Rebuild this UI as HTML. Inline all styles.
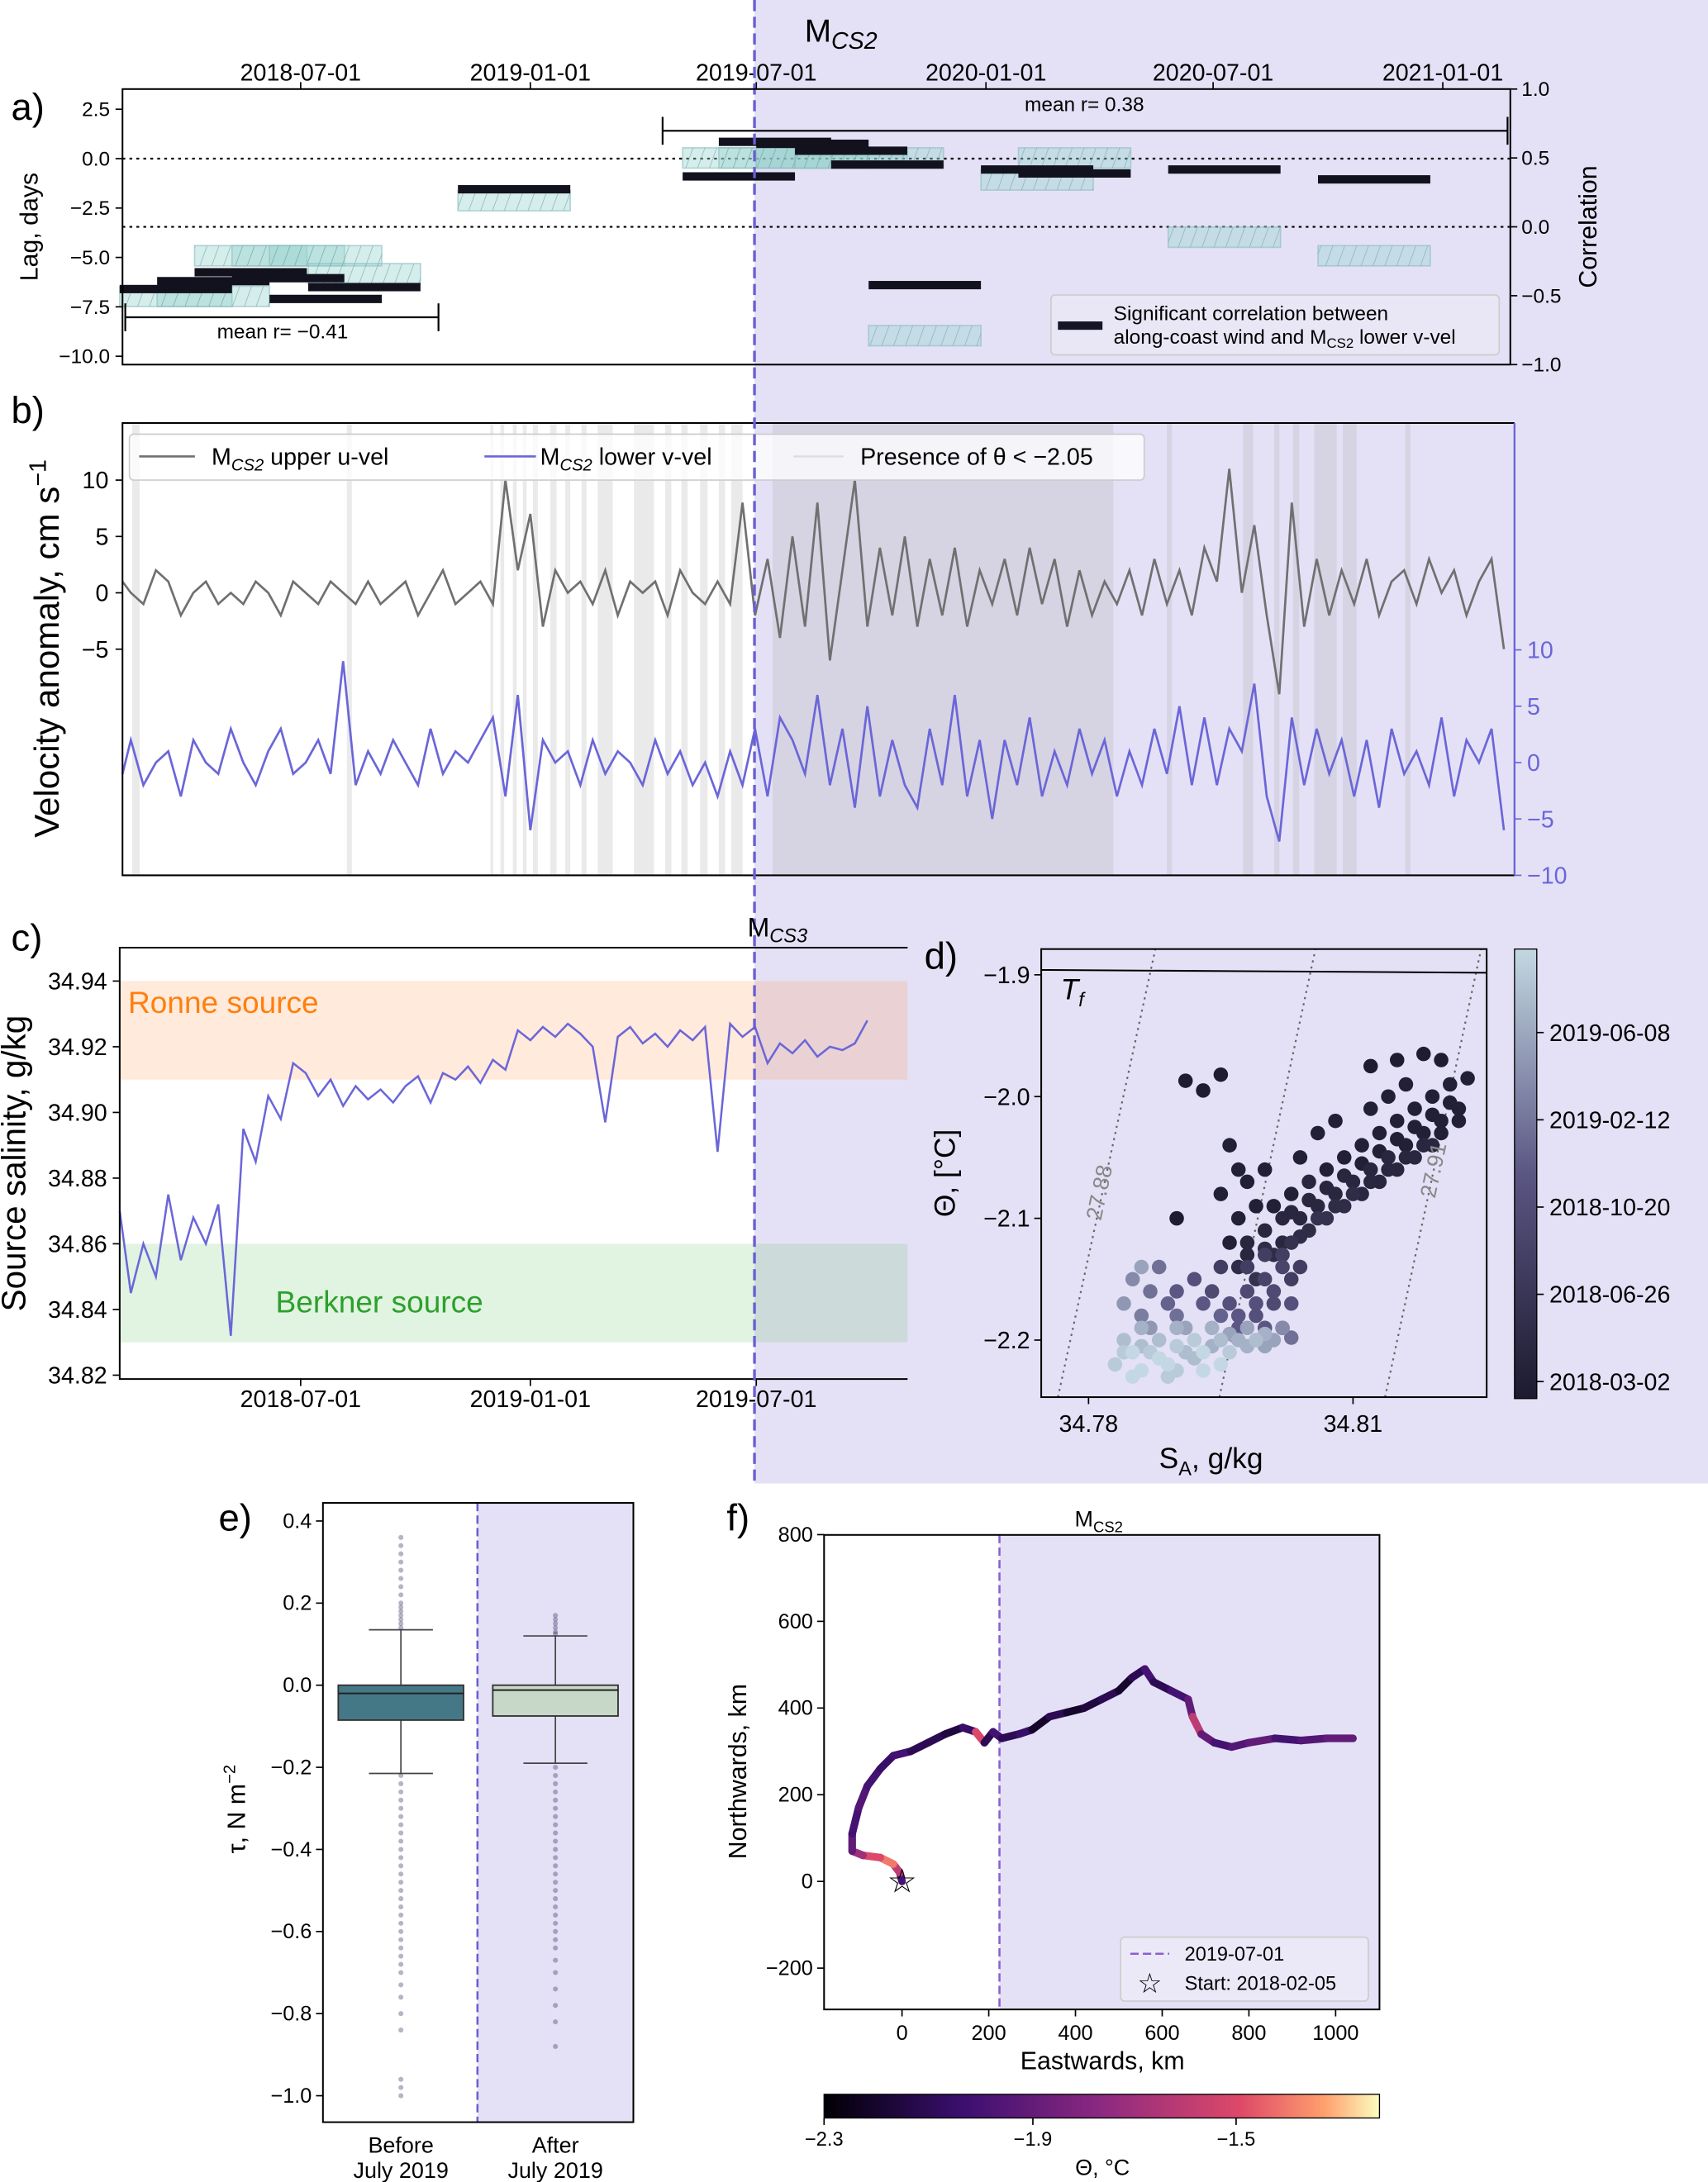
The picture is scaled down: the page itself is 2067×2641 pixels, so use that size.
<!DOCTYPE html>
<html><head><meta charset="utf-8">
<style>
html,body{margin:0;padding:0;background:#fff;}
svg{display:block;font-family:"Liberation Sans",sans-serif;}
</style></head>
<body>
<svg id="fig" width="2067" height="2641" viewBox="0 0 1227 1568" preserveAspectRatio="none" xmlns="http://www.w3.org/2000/svg">
<defs>
<pattern id="hatch" width="8" height="8" patternUnits="userSpaceOnUse" patternTransform="rotate(20)">
<line x1="0" y1="0" x2="0" y2="8" stroke="#7fb0b0" stroke-width="0.8"/>
</pattern>
<linearGradient id="boneg" x1="0" y1="1" x2="0" y2="0">
<stop offset="0" stop-color="#1c1a2e"/><stop offset="0.5" stop-color="#5b5683"/><stop offset="1" stop-color="#c3d8e2"/>
</linearGradient>
<linearGradient id="magmag" x1="0" y1="0" x2="1" y2="0">
<stop offset="0" stop-color="#000004"/><stop offset="0.25" stop-color="#3b0f70"/><stop offset="0.5" stop-color="#8c2981"/><stop offset="0.75" stop-color="#de4968"/><stop offset="0.9" stop-color="#fe9f6d"/><stop offset="1" stop-color="#fcfdbf"/>
</linearGradient>
</defs>
<rect x="542" y="0" width="685" height="1066" fill="#e4e1f6"/>
<g id="gA"></g>
<g id="gB"></g>
<g id="gC"></g>
<g id="gD"></g>
<g id="gE"></g>
<g id="gF"></g>
<line x1="542" y1="0" x2="542" y2="1068" stroke="#6a5fd0" stroke-width="2" stroke-dasharray="8,4"/>
<text x="578" y="30" font-size="23">M<tspan font-size="17" font-style="italic" dy="5">CS2</tspan></text>

<text x="8" y="86" font-size="27">a)</text>
<rect x="88" y="64" width="997" height="198" fill="none" stroke="#000" stroke-width="1.2"/>
<text transform="translate(27,163) rotate(-90)" text-anchor="middle" font-size="18">Lag, days</text>
<text transform="translate(1147,163) rotate(-90)" text-anchor="middle" font-size="18">Correlation</text>
<g>
<rect x="755" y="212" width="322" height="43" rx="3" fill="#e9e7f5" stroke="#ccc"/>
<rect x="760" y="231" width="32" height="6" fill="#151525"/>
<text x="800" y="230" font-size="14.5">Significant correlation between</text>
<text x="800" y="247" font-size="14.5">along-coast wind and M<tspan font-size="10" dy="3">CS2</tspan><tspan dy="-3"> lower v-vel</tspan></text>
</g>
<g stroke="#000" stroke-width="1.3">
<line x1="476" y1="94" x2="1083" y2="94"/><line x1="476" y1="84" x2="476" y2="104"/><line x1="1083" y1="84" x2="1083" y2="104"/>
<line x1="90" y1="228" x2="315" y2="228"/><line x1="90" y1="218" x2="90" y2="238"/><line x1="315" y1="218" x2="315" y2="238"/>
</g>
<text x="779" y="80" font-size="14.5" text-anchor="middle">mean r= 0.38</text>
<text x="203" y="243" font-size="14.5" text-anchor="middle">mean r= −0.41</text>

<text x="8" y="304" font-size="27">b)</text>
<text transform="translate(42,466) rotate(-90)" text-anchor="middle" font-size="25">Velocity anomaly, cm s<tspan font-size="17" dy="-9">−1</tspan></text>

<text x="8" y="683" font-size="27">c)</text>
<text x="537" y="673" font-size="19">M<tspan font-size="14" font-style="italic" dy="4">CS3</tspan></text>
<text transform="translate(18,836) rotate(-90)" text-anchor="middle" font-size="24">Source salinity, g/kg</text>

<text x="664" y="696" font-size="27">d)</text>
<text transform="translate(686,843) rotate(-90)" text-anchor="middle" font-size="21">Θ, [°C]</text>
<text x="870" y="1055" text-anchor="middle" font-size="21">S<tspan font-size="14" dy="5">A</tspan><tspan dy="-5">, g/kg</tspan></text>

<text x="157" y="1100" font-size="27">e)</text>
<text transform="translate(176,1300) rotate(-90)" text-anchor="middle" font-size="18">τ, N m<tspan font-size="12" dy="-7">−2</tspan></text>
<text x="288" y="1547" text-anchor="middle" font-size="16">Before</text>
<text x="288" y="1565" text-anchor="middle" font-size="16">July 2019</text>
<text x="399" y="1547" text-anchor="middle" font-size="16">After</text>
<text x="399" y="1565" text-anchor="middle" font-size="16">July 2019</text>

<text x="522" y="1100" font-size="27">f)</text>
<text x="772" y="1097" font-size="16">M<tspan font-size="11" dy="4">CS2</tspan></text>
<text x="792" y="1487" text-anchor="middle" font-size="18">Eastwards, km</text>
<text transform="translate(536,1273) rotate(-90)" text-anchor="middle" font-size="18">Northwards, km</text>
<text x="792" y="1563" text-anchor="middle" font-size="16">Θ, °C</text>
</svg>

<script>
// ---------- DATA ----------
const lagStart = [-145,-115,-85,-55,-25,6,126,306,335,365,396,425,455,545,575,695,815];
const lagValue = [-6.6,-6.2,-5.75,-6.05,-7.1,-6.5,-1.55,-0.9,0.85,0.75,0.4,-0.3,-6.4,-0.55,-0.75,-0.55,-1.05];
const corrValue = [-0.505,-0.505,-0.21,-0.21,-0.21,-0.34,0.19,0.5,0.5,0.5,0.5,0.5,-0.79,0.34,0.5,-0.075,-0.21];
const dateTickLabels = ["2018-07-01","2019-01-01","2019-07-01","2020-01-01","2020-07-01","2021-01-01"];
const dateTickDays = [0,184,365,549,731,915];
const lagTicks = [2.5,0,-2.5,-5,-7.5,-10];
const corrTicks = [1,0.5,0,-0.5,-1];
const uVel = [1,0,-1,2,1,-2,0,1,-1,0, -1,1,0,-2,1,0,-1,1,0,-1, 1,-1,0,1,-2,0,2,-1,0,1, -1,10,2,7,-3,2,0,1,-1,2, -2,1,0,1,-2,2,0,-1,1,-1, 8,-2,3,-4,5,-3,8,-6,2,10, -3,4,-2,5,-3,3,-2,4,-3,2, -1,3,-2,4,-1,3,-3,2,-2,1, -1,2,-2,3,-1,2,-2,4,1,11, 0,6,-2,-9,8,-3,3,-2,2,-1, 3,-2,1,2,-1,3,0,2,-2,1,3,-5];
const vVel = [-1,2,-2,0,1,-3,2,0,-1,3, 0,-2,1,3,-1,0,2,-1,9,-2, 1,-1,2,0,-2,3,-1,1,0,2, 4,-3,6,-6,2,0,1,-2,2,-1, 1,0,-2,2,-1,1,-2,0,-3,1, -2,3,-3,4,2,-1,6,-2,3,-4, 5,-3,2,-2,-4,3,-2,6,-3,2, -5,2,-2,4,-3,1,-2,3,-1,2, -3,1,-2,3,-1,5,-2,4,-2,3, 1,7,-3,-7,4,-2,3,-1,2,-3, 2,-4,3,-1,1,-2,4,-3,2,0,3,-6];
const coldStart = [-135,37,152,160,170,178,186,200,212,225,238,267,292,305,320,335,345,378,501,694,755,780,795,812,835,885];
const coldEnd = [-129,41,154,163,173,181,190,205,216,229,250,283,297,310,326,340,354,501,651,698,763,784,800,830,846,889];
const salinity = [34.870,34.845,34.860,34.850,34.875,34.855,34.868,34.860,34.872,34.832,34.895,34.885,34.905,34.898,34.915,34.912,34.905,34.910,34.902,34.908,34.904,34.907,34.903,34.908,34.911,34.903,34.912,34.910,34.914,34.909,34.916,34.913,34.925,34.922,34.926,34.923,34.927,34.924,34.920,34.897,34.923,34.926,34.921,34.924,34.920,34.925,34.922,34.926,34.888,34.927,34.923,34.926,34.915,34.921,34.918,34.922,34.917,34.920,34.919,34.921,34.928];
const salTicks = [34.94,34.92,34.90,34.88,34.86,34.84,34.82];
const dSA = [34.797,34.798,34.799,34.800,34.801,34.802,34.803,34.803,34.804,34.805,34.805,34.806,34.807,34.807,34.808,34.809,34.809,34.810,34.811,34.811,34.812,34.813,34.813,34.814,34.815,34.815,34.816,34.817,34.817,34.818,34.819,34.819,34.820,34.821,34.822,34.823,34.815,34.818,34.812,34.820,34.808,34.806,34.804,
34.796,34.797,34.798,34.795,34.799,34.797,34.796,34.800,34.791,34.793,34.795,34.790,
34.794,34.796,34.798,34.800,34.799,34.801,34.802,34.797,34.795,34.803,34.800,34.792,34.790,
34.785,34.787,34.786,34.788,34.789,34.784,34.790,34.786,
34.783,34.784,34.785,34.786,34.787,34.788,34.789,34.790,34.791,34.792,34.793,34.794,34.795,34.796,34.797,34.798,34.799,34.800,34.801,34.802,34.803,34.795,34.790,34.786,
34.798,34.800,34.802,34.804,34.806,34.808,34.810,34.812,34.814,34.816,34.818,34.820,34.822,34.801,34.803,34.805,34.807,34.809,34.811,34.813,34.815,34.817,34.819,34.821,34.816,34.814,34.812,
34.798,34.800,34.802,34.801,34.799,34.797,34.795,34.793,34.803,34.802,34.804,
34.784,34.786,34.788,34.790,34.792,34.794,34.796,34.798,34.800,34.791,34.787,34.785,34.789,34.793];
const dTheta = [-2.14,-2.12,-2.15,-2.11,-2.13,-2.10,-2.12,-2.08,-2.10,-2.07,-2.11,-2.09,-2.06,-2.10,-2.08,-2.05,-2.09,-2.07,-2.04,-2.08,-2.06,-2.03,-2.07,-2.05,-2.02,-2.06,-2.04,-2.01,-2.05,-2.03,-2.00,-2.04,-2.02,-1.99,-2.01,-1.985,-1.97,-1.965,-1.975,-1.97,-2.02,-2.03,-2.05,
-2.04,-2.06,-2.07,-2.08,-2.09,-2.10,-2.12,-2.06,-1.987,-1.995,-1.982,-2.10,
-2.16,-2.17,-2.16,-2.15,-2.18,-2.17,-2.14,-2.19,-2.14,-2.15,-2.19,-2.15,-2.16,
-2.15,-2.16,-2.18,-2.14,-2.17,-2.17,-2.18,-2.14,
-2.22,-2.20,-2.21,-2.19,-2.21,-2.20,-2.22,-2.19,-2.21,-2.20,-2.21,-2.19,-2.20,-2.21,-2.20,-2.19,-2.20,-2.195,-2.20,-2.19,-2.198,-2.22,-2.225,-2.225,
-2.13,-2.125,-2.12,-2.115,-2.10,-2.09,-2.08,-2.07,-2.06,-2.05,-2.04,-2.03,-2.02,-2.09,-2.095,-2.085,-2.075,-2.065,-2.055,-2.045,-2.035,-2.025,-2.015,-2.005,-1.99,-2.00,-2.01,
-2.14,-2.13,-2.13,-2.16,-2.17,-2.18,-2.18,-2.17,-2.17,-2.19,-2.14,
-2.21,-2.205,-2.215,-2.205,-2.215,-2.205,-2.195,-2.205,-2.205,-2.19,-2.19,-2.23,-2.23,-2.225];
const dTime = [.15,.1,.2,.1,.15,.1,.2,.05,.1,.1,.15,.1,.05,.2,.1,.05,.15,.1,.05,.1,.1,.05,.1,.1,.05,.1,.05,.05,.1,.05,.05,.1,.05,.05,.05,.05,.02,.02,.02,.02,.05,.05,.05,
.05,.05,.05,.05,.05,.05,.05,.05,.02,.02,.02,.02,
.4,.45,.4,.35,.45,.4,.35,.5,.3,.3,.5,.45,.5,
.7,.6,.65,.6,.55,.75,.6,.8,
.95,.9,1,.85,.95,.9,1,.85,.9,.95,1,.85,.9,.95,.85,.8,.9,.85,.8,.7,.6,1,.95,1,
.1,.15,.1,.15,.2,.15,.15,.1,.1,.1,.1,.05,.05,.05,.1,.1,.1,.1,.05,.05,.05,.05,.05,.05,.05,.05,.05,
.3,.3,.3,.4,.45,.5,.55,.5,.45,.55,.3,
.95,.9,1,.95,.9,.85,.8,.85,.8,.8,.75,1,.95,1];
const dColorbarLabels = ["2019-06-08","2019-02-12","2018-10-20","2018-06-26","2018-03-02"];
const boxBefore = [-0.085,-0.02,0.0,-0.215,0.135];
const boxAfter = [-0.075,-0.012,0.0,-0.19,0.12];
const outBefore = [0.14,0.15,0.16,0.17,0.18,0.19,0.2,0.22,0.24,0.26,0.28,0.3,0.32,0.34,0.36,-0.22,-0.24,-0.26,-0.28,-0.3,-0.32,-0.34,-0.36,-0.38,-0.4,-0.42,-0.44,-0.46,-0.48,-0.5,-0.52,-0.54,-0.56,-0.58,-0.6,-0.62,-0.64,-0.66,-0.68,-0.7,-0.73,-0.76,-0.8,-0.84,-0.96,-0.98,-1.0];
const outAfter = [0.125,0.13,0.14,0.15,0.16,0.17,-0.2,-0.22,-0.24,-0.26,-0.28,-0.3,-0.32,-0.34,-0.36,-0.38,-0.4,-0.42,-0.44,-0.46,-0.48,-0.5,-0.52,-0.54,-0.56,-0.58,-0.6,-0.62,-0.64,-0.67,-0.7,-0.74,-0.78,-0.82,-0.88];
const tauTicks = [0.4,0.2,0.0,-0.2,-0.4,-0.6,-0.8,-1.0];
const fEast = [0,-5,-20,-50,-90,-115,-115,-100,-80,-50,-20,20,60,100,140,170,190,210,230,270,300,340,380,420,460,500,530,560,580,620,660,670,690,720,760,800,860,920,980,1040];
const fNorth = [0,20,40,55,60,70,110,170,220,260,290,300,320,340,355,345,320,345,330,340,350,380,390,400,420,440,470,490,460,440,420,380,340,320,310,320,330,325,330,330];
const fTheta = [-2.1,-2.0,-1.6,-1.4,-1.5,-1.7,-1.9,-2.0,-1.95,-2.0,-2.05,-2.0,-2.1,-2.1,-2.15,-2.05,-1.5,-2.1,-2.0,-2.1,-2.05,-2.2,-2.1,-2.2,-2.15,-2.1,-2.2,-2.1,-2.0,-2.1,-2.0,-1.9,-1.6,-1.9,-2.0,-1.95,-1.9,-2.0,-1.95,-1.9];
const fXTicks = [0,200,400,600,800,1000];
const fYTicks = [800,600,400,200,0,-200];

// ---------- HELPERS ----------
const NS = "http://www.w3.org/2000/svg";
function mk(tag, attrs, parent){const e=document.createElementNS(NS,tag);for(const k in attrs)e.setAttribute(k,attrs[k]);parent.appendChild(e);return e;}
function txt(str, attrs, parent){const e=mk("text",attrs,parent);e.textContent=str;return e;}
const xDay = d => 216 + d*0.8967;
const fmt = v => (v<0?"−":"")+Math.abs(v).toFixed(1);
let el;

// ---------- PANEL A ----------
const gA = document.getElementById("gA");
const yLag = v => 114 - v*14.2;
const yCorr = v => 163 - v*99;
el = mk("line",{x1:88,y1:yLag(0),x2:1085,y2:yLag(0),stroke:"#000","stroke-dasharray":"2,3","stroke-width":1.3},gA);


el = mk("line",{x1:88,y1:yCorr(0),x2:1085,y2:yCorr(0),stroke:"#000","stroke-dasharray":"2,3","stroke-width":1.3},gA);


for(let i=0;i<lagStart.length;i++){
  const x0=xDay(lagStart[i]), x1=xDay(lagStart[i]+90);
  el = mk("rect",{x:x0,y:yCorr(corrValue[i])-7.3,width:x1-x0,height:14.6,fill:"rgba(150,210,205,0.4)",stroke:"rgba(140,190,190,0.6)","stroke-width":1},gA);
  
  
  el = mk("rect",{x:x0,y:yCorr(corrValue[i])-7.3,width:x1-x0,height:14.6,fill:"url(#hatch)"},gA);
  
  
}
for(let i=0;i<lagStart.length;i++){
  const x0=xDay(lagStart[i]), x1=xDay(lagStart[i]+90);
  el = mk("rect",{x:x0,y:yLag(lagValue[i])-3,width:x1-x0,height:6,fill:"#12121e"},gA);
  
  
}
dateTickDays.forEach((d,i)=>{
  el = mk("line",{x1:xDay(d),y1:64,x2:xDay(d),y2:59,stroke:"#000"},gA);
  
  
  el = txt(dateTickLabels[i],{x:xDay(d),y:58,"text-anchor":"middle","font-size":17},gA);
  
  
});
lagTicks.forEach(v=>{
  el = mk("line",{x1:83,y1:yLag(v),x2:88,y2:yLag(v),stroke:"#000"},gA);
  
  
  el = txt(fmt(v),{x:79,y:yLag(v)+5,"text-anchor":"end","font-size":14.5},gA);
  
  
});
corrTicks.forEach(v=>{
  el = mk("line",{x1:1085,y1:yCorr(v),x2:1090,y2:yCorr(v),stroke:"#000"},gA);
  
  
  el = txt(fmt(v),{x:1093,y:yCorr(v)+5,"font-size":14.5},gA);
  
  
});

// ---------- PANEL B ----------
const gB = document.getElementById("gB");
const yU = v => 426 - v*8.1;
const yV = v => 548 - v*8.1;
for(let i=0;i<coldStart.length;i++){
  const x0=Math.max(88,xDay(coldStart[i])), x1=xDay(coldEnd[i]);
  el = mk("rect",{x:x0,y:304,width:Math.max(2,x1-x0),height:325,fill:"rgba(170,170,170,0.25)"},gB);
  
  
}
let pu="", pv="";
uVel.forEach((v,i)=>{pu+=(i?"L":"M")+Math.max(88,xDay(-146+10*i)).toFixed(1)+","+yU(v).toFixed(1);});
vVel.forEach((v,i)=>{pv+=(i?"L":"M")+Math.max(88,xDay(-146+10*i)).toFixed(1)+","+yV(v).toFixed(1);});
el = mk("path",{d:pu,fill:"none",stroke:"#707070","stroke-width":1.6},gB);


el = mk("path",{d:pv,fill:"none",stroke:"#6b66d8","stroke-width":1.6},gB);


el = mk("path",{d:"M1088,304 L88,304 L88,629 L1088,629",fill:"none",stroke:"#000","stroke-width":1.2},gB);


el = mk("line",{x1:1088,y1:304,x2:1088,y2:629,stroke:"#6b66d8","stroke-width":1.4},gB);


[10,5,0,-5].forEach(v=>{
  el = mk("line",{x1:83,y1:yU(v),x2:88,y2:yU(v),stroke:"#000"},gB);
  
  
  el = txt(v<0?"−"+(-v):String(v),{x:78,y:yU(v)+6,"text-anchor":"end","font-size":17},gB);
  
  
});
[10,5,0,-5,-10].forEach(v=>{
  el = mk("line",{x1:1088,y1:yV(v),x2:1093,y2:yV(v),stroke:"#6b66d8"},gB);
  
  
  el = txt(v<0?"−"+(-v):String(v),{x:1097,y:yV(v)+6,"font-size":17,fill:"#6b66d8"},gB);
  
  
});
const lg = mk("g",{},gB);


mk("rect",{x:93,y:312,width:729,height:33,rx:3,fill:"rgba(255,255,255,0.75)",stroke:"#ccc"},lg);
mk("line",{x1:100,y1:328,x2:140,y2:328,stroke:"#707070","stroke-width":1.6},lg);
el = txt("",{x:152,y:334,"font-size":17},lg);
el.innerHTML='M<tspan font-size="12" font-style="italic" dy="4">CS2</tspan><tspan dy="-4"> upper u-vel</tspan>';
mk("line",{x1:348,y1:328,x2:385,y2:328,stroke:"#6b66d8","stroke-width":1.6},lg);
el = txt("",{x:388,y:334,"font-size":17},lg);
el.innerHTML='M<tspan font-size="12" font-style="italic" dy="4">CS2</tspan><tspan dy="-4"> lower v-vel</tspan>';
mk("line",{x1:570,y1:328,x2:606,y2:328,stroke:"#ddd","stroke-width":1.4},lg);
el = txt("Presence of θ < −2.05",{x:618,y:334,"font-size":17},lg);

// ---------- PANEL C ----------
const gC = document.getElementById("gC");
const yS = s => 705 + (34.94-s)*2360;
el = mk("rect",{x:86,y:yS(34.94),width:566,height:yS(34.91)-yS(34.94),fill:"rgba(255,160,90,0.22)"},gC);


el = mk("rect",{x:86,y:yS(34.86),width:566,height:yS(34.83)-yS(34.86),fill:"rgba(120,200,120,0.22)"},gC);


let ps="";
salinity.forEach((s,i)=>{ps+=(i?"L":"M")+Math.max(86,xDay(-146+10*i)).toFixed(1)+","+yS(s).toFixed(1);});
el = mk("path",{d:ps,fill:"none",stroke:"#6b66d8","stroke-width":1.5},gC);


el = txt("Ronne source",{x:92,y:728,"font-size":22,fill:"#ff7f0e"},gC);


el = txt("Berkner source",{x:198,y:943,"font-size":22,fill:"#2ca02c"},gC);


el = mk("path",{d:"M652,681 L86,681 L86,991 L652,991",fill:"none",stroke:"#000","stroke-width":1.2},gC);


salTicks.forEach(s=>{
  el = mk("line",{x1:81,y1:yS(s),x2:86,y2:yS(s),stroke:"#000"},gC);
  
  
  el = txt(s.toFixed(2),{x:77,y:yS(s)+6,"text-anchor":"end","font-size":17},gC);
  
  
});
dateTickDays.slice(0,3).forEach((d,i)=>{
  el = mk("line",{x1:xDay(d),y1:991,x2:xDay(d),y2:996,stroke:"#000"},gC);
  
  
  el = txt(dateTickLabels[i],{x:xDay(d),y:1011,"text-anchor":"middle","font-size":17},gC);
  
  
});

// ---------- PANEL D ----------
const gD = document.getElementById("gD");
const xSA = s => 782 + (s-34.78)*6333;
const yTh = t => 788 - (t+2.0)*875;
function boneCol(t){const a=[28,26,46],b=[91,86,131],c=[195,216,226];let p,q,f;if(t<.5){p=a;q=b;f=t/.5}else{p=b;q=c;f=(t-.5)/.5}return "rgb("+p.map((v,k)=>Math.round(v+(q[k]-v)*f)).join(",")+")";}
const clipD = mk("clipPath",{id:"clipd"},gD); mk("rect",{x:748,y:682,width:320,height:322},clipD);
const dInner = mk("g",{"clip-path":"url(#clipd)"},gD);
[[760,1004,830,682],[876,1004,945,682],[995,1004,1064,682]].forEach(l=>{
  el = mk("line",{x1:l[0],y1:l[1],x2:l[2],y2:l[3],stroke:"#666","stroke-width":1.3,"stroke-dasharray":"1.5,3"},dInner);
  
  
});
el = mk("line",{x1:748,y1:697,x2:1068,y2:699,stroke:"#000","stroke-width":1.2},dInner);


const order=[...dSA.keys()].sort((a,b)=>dTime[a]-dTime[b]);
order.forEach(i=>{
  el = mk("circle",{cx:xSA(dSA[i]),cy:yTh(dTheta[i]),r:5.2,fill:boneCol(dTime[i])},dInner);
  
  
});
el = txt("27.88",{transform:"translate(795,858) rotate(-78)","text-anchor":"middle","font-size":16,fill:"#888"},gD);


el = txt("27.91",{transform:"translate(1035,842) rotate(-78)","text-anchor":"middle","font-size":16,fill:"#888"},gD);


el = txt("",{x:762,y:718,"font-size":21,"font-style":"italic"},gD);
el.innerHTML='T<tspan font-size="14" dy="5">f</tspan>';


el = mk("rect",{x:748,y:682,width:320,height:322,fill:"none",stroke:"#000","stroke-width":1.2},gD);


[-1.9,-2.0,-2.1,-2.2].forEach(t=>{
  el = mk("line",{x1:743,y1:yTh(t),x2:748,y2:yTh(t),stroke:"#000"},gD);
  
  
  el = txt(fmt(t),{x:740,y:yTh(t)+6,"text-anchor":"end","font-size":17},gD);
  
  
});
[34.78,34.81].forEach(s=>{
  el = mk("line",{x1:xSA(s),y1:1004,x2:xSA(s),y2:1009,stroke:"#000"},gD);
  
  
  el = txt(s.toFixed(2),{x:xSA(s),y:1029,"text-anchor":"middle","font-size":17},gD);
  
  
});
el = mk("rect",{x:1088,y:682,width:16,height:323,fill:"url(#boneg)",stroke:"#000","stroke-width":0.8},gD);


dColorbarLabels.forEach((s,i)=>{
  const y=742+i*62.7;
  el = mk("line",{x1:1104,y1:y,x2:1109,y2:y,stroke:"#000"},gD);
  
  
  el = txt(s,{x:1113,y:y+6,"font-size":17},gD);
  
  
});

// ---------- PANEL E ----------
const gE = document.getElementById("gE");
const yT = v => 1211 - v*295;
el = mk("rect",{x:343,y:1080,width:112,height:445,fill:"#e4e1f6"},gE);


el = mk("line",{x1:343,y1:1080,x2:343,y2:1525,stroke:"#6a5fd0","stroke-width":1.5,"stroke-dasharray":"6,3"},gE);


function drawBox(st,cx,col,outs){
  el = mk("line",{x1:cx,y1:yT(st[4]),x2:cx,y2:yT(st[3]),stroke:"#444","stroke-width":1},gE);
  
  
  [st[3],st[4]].forEach(v=>{
    el = mk("line",{x1:cx-23,y1:yT(v),x2:cx+23,y2:yT(v),stroke:"#444","stroke-width":1},gE);
    
    
  });
  outs.forEach(v=>{
    el = mk("circle",{cx:cx,cy:yT(v),r:1.8,fill:"rgba(50,40,90,0.35)"},gE);
    
    
  });
  el = mk("rect",{x:cx-45,y:yT(st[2]),width:90,height:yT(st[0])-yT(st[2]),fill:col,stroke:"#333","stroke-width":1.1},gE);
  
  
  el = mk("line",{x1:cx-45,y1:yT(st[1]),x2:cx+45,y2:yT(st[1]),stroke:"#222","stroke-width":1.2},gE);
  
  
}
drawBox(boxBefore,288,"#457887",outBefore);
drawBox(boxAfter,399,"#c7d8c9",outAfter);
el = mk("rect",{x:232,y:1080,width:223,height:445,fill:"none",stroke:"#000","stroke-width":1.2},gE);


tauTicks.forEach(v=>{
  el = mk("line",{x1:227,y1:yT(v),x2:232,y2:yT(v),stroke:"#000"},gE);
  
  
  el = txt(fmt(v),{x:224,y:yT(v)+5,"text-anchor":"end","font-size":15},gE);
  
  
});

// ---------- PANEL F ----------
const gF = document.getElementById("gF");
const xE = v => 648 + v*0.3115;
const yN = v => 1352 - v*0.3115;
function magma(t){const st=[[0,[0,0,4]],[.25,[59,15,112]],[.5,[140,41,129]],[.75,[222,73,104]],[.9,[254,159,109]],[1,[252,253,191]]];t=Math.max(0,Math.min(1,t));for(let k=1;k<st.length;k++){if(t<=st[k][0]){const f=(t-st[k-1][0])/(st[k][0]-st[k-1][0]);return "rgb("+st[k-1][1].map((v,j)=>Math.round(v+(st[k][1][j]-v)*f)).join(",")+")";}}return "rgb(252,253,191)";}
el = mk("rect",{x:718,y:1103,width:273,height:341,fill:"#e4e1f6"},gF);


el = mk("line",{x1:718,y1:1103,x2:718,y2:1444,stroke:"#8a5fd0","stroke-width":1.5,"stroke-dasharray":"6,3"},gF);


for(let i=1;i<fEast.length;i++){
  el = mk("line",{x1:xE(fEast[i-1]),y1:yN(fNorth[i-1]),x2:xE(fEast[i]),y2:yN(fNorth[i]),stroke:magma((fTheta[i]+2.3)/1.08),"stroke-width":5.5,"stroke-linecap":"round"},gF);
  
  
}
el = txt("☆",{x:xE(fEast[0]),y:yN(fNorth[0])+8,"text-anchor":"middle","font-size":24,fill:"#000"},gF);


el = mk("rect",{x:592,y:1103,width:399,height:341,fill:"none",stroke:"#000","stroke-width":1.2},gF);


fXTicks.forEach(v=>{
  el = mk("line",{x1:xE(v),y1:1444,x2:xE(v),y2:1449,stroke:"#000"},gF);
  
  
  el = txt(String(v),{x:xE(v),y:1466,"text-anchor":"middle","font-size":15},gF);
  
  
});
fYTicks.forEach(v=>{
  el = mk("line",{x1:587,y1:yN(v),x2:592,y2:yN(v),stroke:"#000"},gF);
  
  
  el = txt(v<0?"−"+(-v):String(v),{x:584,y:yN(v)+5,"text-anchor":"end","font-size":15},gF);
  
  
});
const lf = mk("g",{},gF);


mk("rect",{x:805,y:1392,width:178,height:46,rx:3,fill:"#ebe9f7",stroke:"#ccc"},lf);
mk("line",{x1:812,y1:1404,x2:840,y2:1404,stroke:"#8a5fd0","stroke-width":1.5,"stroke-dasharray":"6,3"},lf);
txt("2019-07-01",{x:851,y:1409,"font-size":14},lf);
txt("☆",{x:826,y:1432,"text-anchor":"middle","font-size":20},lf);
txt("Start: 2018-02-05",{x:851,y:1430,"font-size":14},lf);
el = mk("rect",{x:592,y:1505,width:399,height:17,fill:"url(#magmag)",stroke:"#000","stroke-width":0.8},gF);


[[-2.3,592],[-1.9,742],[-1.5,888]].forEach(p=>{
  el = mk("line",{x1:p[1],y1:1522,x2:p[1],y2:1527,stroke:"#000"},gF);
  
  
  el = txt(fmt(p[0]),{x:p[1],y:1542,"text-anchor":"middle","font-size":14},gF);
  
  
});
</script>
</body></html>
